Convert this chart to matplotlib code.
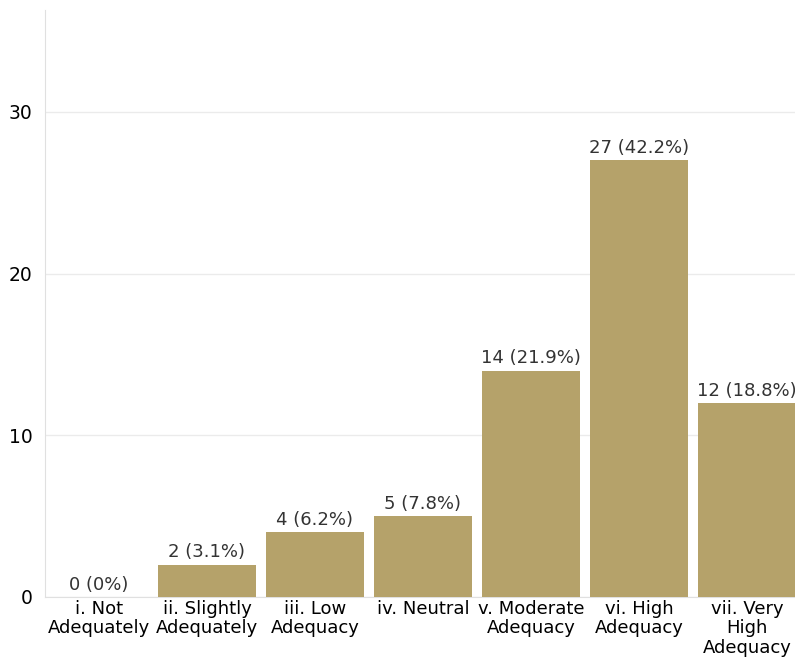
import matplotlib
matplotlib.use("Agg")
import matplotlib.pyplot as plt

# Response counts per adequacy level
categories = [
    "i. Not\nAdequately",
    "ii. Slightly\nAdequately",
    "iii. Low\nAdequacy",
    "iv. Neutral",
    "v. Moderate\nAdequacy",
    "vi. High\nAdequacy",
    "vii. Very\nHigh\nAdequacy",
]
counts = [0, 2, 4, 5, 14, 27, 12]
y_ticks = [0, 10, 20, 30]

total = sum(counts)

plt.rcParams['font.family'] = ['DejaVu Sans']

fig = plt.figure(figsize=(7.95, 6.57), dpi=100)
# axes run slightly past the right edge of the figure
ax = fig.add_axes([45 / 795, 60 / 657, 756 / 795, 587 / 657])

x = range(len(categories))
bars = ax.bar(x, counts, width=0.9, color='#b5a26a', zorder=3)

for bar, n in zip(bars, counts):
    pct = n / total * 100
    pct_txt = "0%" if n == 0 else f"{pct:.1f}%"
    ax.text(bar.get_x() + bar.get_width() / 2, n + 0.2, f"{n} ({pct_txt})",
            ha='center', va='bottom', fontsize=13, color='#333333')

ax.set_xlim(-0.5, 6.5)
ax.set_ylim(0, 36.3)
ax.set_yticks(y_ticks)
ax.set_xticks(list(x))
ax.set_xticklabels(categories, fontsize=13, linespacing=1.1)
ax.tick_params(axis='y', labelsize=13.5, length=0, pad=9)
ax.tick_params(axis='x', length=0, pad=2)
ax.grid(axis='y', color='#ebebeb', linewidth=1, zorder=0)

for side in ['top', 'right']:
    ax.spines[side].set_visible(False)
for side in ['left', 'bottom']:
    ax.spines[side].set_color('#e0e0e0')

fig.savefig("out.png", dpi=100)
